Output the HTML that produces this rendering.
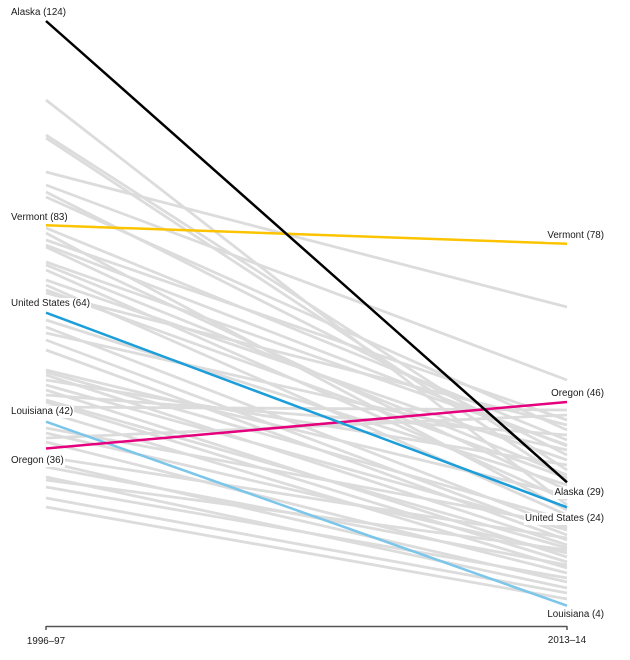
<!DOCTYPE html>
<html>
<head>
<meta charset="utf-8">
<style>
  html,body{margin:0;padding:0;background:#fff;}
  #wrap{position:relative;width:630px;height:660px;overflow:hidden;background:#fff;font-family:"Liberation Sans",Arial,sans-serif;}
  svg{position:absolute;left:0;top:0;}
  .lb{position:absolute;font-size:9.8px;line-height:12px;height:12px;color:#1a1a1a;background:#fff;white-space:nowrap;padding:0 1px;}
  .l{left:10px;}
  .r{right:25px;}
  .ax{position:absolute;font-size:9.8px;line-height:12px;color:#1a1a1a;white-space:nowrap;width:80px;text-align:center;}
</style>
</head>
<body>
<div id="wrap">
<svg width="630" height="660" viewBox="0 0 630 660">
  <g stroke="#dcdcdc" stroke-width="2.8" fill="none">
    <line x1="46" y1="100" x2="567" y2="505"/>
    <line x1="46" y1="135" x2="567" y2="470"/>
    <line x1="46" y1="138" x2="567" y2="480"/>
    <line x1="46" y1="172" x2="567" y2="307"/>
    <line x1="46" y1="185" x2="567" y2="380"/>
    <line x1="46" y1="192" x2="567" y2="455"/>
    <line x1="46" y1="197" x2="567" y2="430"/>
    <line x1="46" y1="228" x2="567" y2="440"/>
    <line x1="46" y1="233" x2="567" y2="510"/>
    <line x1="46" y1="240" x2="567" y2="420"/>
    <line x1="46" y1="245" x2="567" y2="446"/>
    <line x1="46" y1="247" x2="567" y2="490"/>
    <line x1="46" y1="262" x2="567" y2="445"/>
    <line x1="46" y1="265" x2="567" y2="475"/>
    <line x1="46" y1="270" x2="567" y2="500"/>
    <line x1="46" y1="280" x2="567" y2="460"/>
    <line x1="46" y1="285" x2="567" y2="515"/>
    <line x1="46" y1="290" x2="567" y2="478"/>
    <line x1="46" y1="293" x2="567" y2="425"/>
    <line x1="46" y1="320" x2="567" y2="485"/>
    <line x1="46" y1="327" x2="567" y2="528"/>
    <line x1="46" y1="333" x2="567" y2="450"/>
    <line x1="46" y1="340" x2="567" y2="535"/>
    <line x1="46" y1="350" x2="567" y2="540"/>
    <line x1="46" y1="370" x2="567" y2="495"/>
    <line x1="46" y1="372" x2="567" y2="520"/>
    <line x1="46" y1="375" x2="567" y2="545"/>
    <line x1="46" y1="380" x2="567" y2="465"/>
    <line x1="46" y1="385" x2="567" y2="530"/>
    <line x1="46" y1="390" x2="567" y2="557"/>
    <line x1="46" y1="395" x2="567" y2="435"/>
    <line x1="46" y1="400" x2="567" y2="548"/>
    <line x1="46" y1="402" x2="567" y2="562"/>
    <line x1="46" y1="407" x2="567" y2="410"/>
    <line x1="46" y1="412" x2="567" y2="568"/>
    <line x1="46" y1="428" x2="567" y2="525"/>
    <line x1="46" y1="433" x2="567" y2="553"/>
    <line x1="46" y1="438" x2="567" y2="415"/>
    <line x1="46" y1="442" x2="567" y2="573"/>
    <line x1="46" y1="457" x2="567" y2="538"/>
    <line x1="46" y1="462" x2="567" y2="582"/>
    <line x1="46" y1="467" x2="567" y2="565"/>
    <line x1="46" y1="477" x2="567" y2="588"/>
    <line x1="46" y1="480" x2="567" y2="550"/>
    <line x1="46" y1="487" x2="567" y2="578"/>
    <line x1="46" y1="498" x2="567" y2="593"/>
    <line x1="46" y1="507" x2="567" y2="599"/>
  </g>
  <g stroke="#555" stroke-width="1.5" fill="none">
    <line x1="46" y1="626.5" x2="567" y2="626.5"/>
    <line x1="46" y1="626" x2="46" y2="630"/>
    <line x1="567" y1="626" x2="567" y2="630"/>
  </g>
  <line x1="46" y1="421.7" x2="567" y2="605.7" stroke="#7cc6ea" stroke-width="2.5"/>
  <line x1="46" y1="448.5" x2="567" y2="402" stroke="#e5007d" stroke-width="2.5"/>
  <line x1="46" y1="312.7" x2="567" y2="507.3" stroke="#1d9ed9" stroke-width="2.5"/>
  <line x1="46" y1="225.3" x2="567" y2="243.7" stroke="#fcc400" stroke-width="2.5"/>
  <line x1="46" y1="21" x2="567" y2="482.3" stroke="#000" stroke-width="2.5"/>
</svg>

<div class="lb l" style="top:7px;">Alaska (124)</div>
<div class="lb l" style="top:212px;">Vermont (83)</div>
<div class="lb l" style="top:298px;">United States (64)</div>
<div class="lb l" style="top:406px;">Louisiana (42)</div>
<div class="lb l" style="top:454.5px;">Oregon (36)</div>

<div class="lb r" style="top:230px;">Vermont (78)</div>
<div class="lb r" style="top:388px;">Oregon (46)</div>
<div class="lb r" style="top:487px;">Alaska (29)</div>
<div class="lb r" style="top:513px;">United States (24)</div>
<div class="lb r" style="top:609px;">Louisiana (4)</div>

<div class="ax" style="left:6px;top:635.5px;">1996–97</div>
<div class="ax" style="left:527px;top:635px;">2013–14</div>
</div>
</body>
</html>
